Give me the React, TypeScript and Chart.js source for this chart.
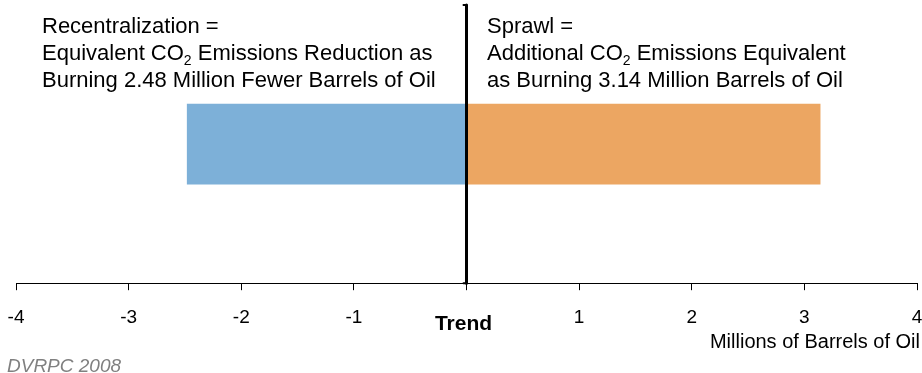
import React, { useEffect, useRef } from "react";
import { Chart, registerables } from "chart.js";

Chart.register(...registerables);

const categories = [""];
const recentralizationValues = [-2.48];
const sprawlValues = [3.14];
const trendValue = 0;
const xMin = -4;
const xMax = 4;
const xStep = 1;
const trendLabel = "Trend";
const axisTitleMain = "Millions of Barrels of ";
const axisTitleEnd = "Oil";
const sourceNote = "DVRPC 2008";
const leftNote = [
  ["Recentralization ="],
  ["Equivalent CO", "2", " Emissions Reduction as"],
  ["Burning 2.48 Million Fewer Barrels of Oil"],
];
const rightNote = [
  ["Sprawl ="],
  ["Additional CO", "2", " Emissions Equivalent"],
  ["as Burning 3.14 Million Barrels of Oil"],
];

const FONT = '"Liberation Sans", Arial, sans-serif';

function drawNote(ctx: CanvasRenderingContext2D, lines: string[][], x: number, baselines: number[]) {
  ctx.fillStyle = "#000";
  ctx.textAlign = "left";
  ctx.textBaseline = "alphabetic";
  lines.forEach((parts, i) => {
    let cx = x;
    const by = baselines[i];
    parts.forEach((p, j) => {
      const isSub = parts.length === 3 && j === 1;
      ctx.font = isSub ? `14px ${FONT}` : `22px ${FONT}`;
      ctx.fillText(p, cx, isSub ? by + 5 : by);
      cx += ctx.measureText(p).width;
    });
  });
}

const overlayPlugin = {
  id: "overlay",
  afterDraw(chart: any) {
    const ctx: CanvasRenderingContext2D = chart.ctx;
    const xs = chart.scales.x;
    const area = chart.chartArea;
    const x0 = xs.getPixelForValue(trendValue);
    ctx.save();
    // trend line
    ctx.strokeStyle = "#000";
    ctx.lineWidth = 3;
    ctx.lineCap = "round";
    ctx.beginPath();
    ctx.moveTo(x0, area.top);
    ctx.lineTo(x0, area.bottom);
    ctx.stroke();
    ctx.lineWidth = 2;
    ctx.beginPath();
    ctx.moveTo(x0 - 3, area.top);
    ctx.lineTo(x0, area.top);
    ctx.moveTo(x0 - 3, area.bottom);
    ctx.lineTo(x0, area.bottom);
    ctx.stroke();

    drawNote(ctx, leftNote, 42, [33, 60, 87]);
    drawNote(ctx, rightNote, 487, [33, 60, 87]);

    // Trend label
    ctx.fillStyle = "#000";
    ctx.font = `bold 21px ${FONT}`;
    ctx.textAlign = "center";
    ctx.textBaseline = "alphabetic";
    ctx.fillText(trendLabel, x0 - 3, 330);

    // axis title
    ctx.textAlign = "right";
    ctx.font = `20px ${FONT}`;
    const rightX = 920;
    const wEnd = ctx.measureText(axisTitleEnd).width;
    ctx.fillText(axisTitleEnd, rightX, 348);
    ctx.fillText(axisTitleMain, rightX - wEnd, 348);

    // source
    ctx.textAlign = "left";
    ctx.fillStyle = "#808080";
    ctx.font = `italic 19px ${FONT}`;
    ctx.fillText(sourceNote, 7, 372);
    ctx.restore();
  },
};

export default function App() {
  const ref = useRef<HTMLCanvasElement>(null);
  useEffect(() => {
    if (!ref.current) return;
    const chart = new Chart(ref.current, {
      type: "bar",
      data: {
        labels: categories,
        datasets: [
          {
            label: "Recentralization",
            data: recentralizationValues,
            backgroundColor: "#7DB0D8",
            barThickness: 80,
          },
          {
            label: "Sprawl",
            data: sprawlValues,
            backgroundColor: "#ECA662",
            barThickness: 80,
          },
        ],
      },
      options: {
        indexAxis: "y",
        animation: false,
        responsive: true,
        maintainAspectRatio: false,
        layout: { padding: { top: 5, left: 16, right: 5, bottom: 28 } },
        plugins: {
          legend: { display: false },
          tooltip: { enabled: false },
        },
        scales: {
          x: {
            type: "linear",
            min: xMin,
            max: xMax,
            stacked: true,
            afterFit: (scale: any) => {
              scale.paddingLeft = 0;
              scale.paddingRight = 0;
            },
            ticks: {
              stepSize: xStep,
              color: "#000",
              font: { family: FONT, size: 19 },
              padding: 16,
              maxRotation: 0,
              callback: (v: any) => (v === trendValue ? "" : String(v)),
            },
            grid: {
              drawOnChartArea: false,
              drawTicks: true,
              tickLength: 7,
              color: "#000",
            },
            border: { display: true, color: "#000", width: 1 },
          },
          y: {
            display: false,
            stacked: true,
          },
        },
      },
      plugins: [overlayPlugin],
    });
    return () => chart.destroy();
  }, []);
  return (
    <div style={{ position: "fixed", left: 0, top: 0, width: 922, height: 373, background: "#fff" }}>
      <canvas ref={ref} />
    </div>
  );
}
